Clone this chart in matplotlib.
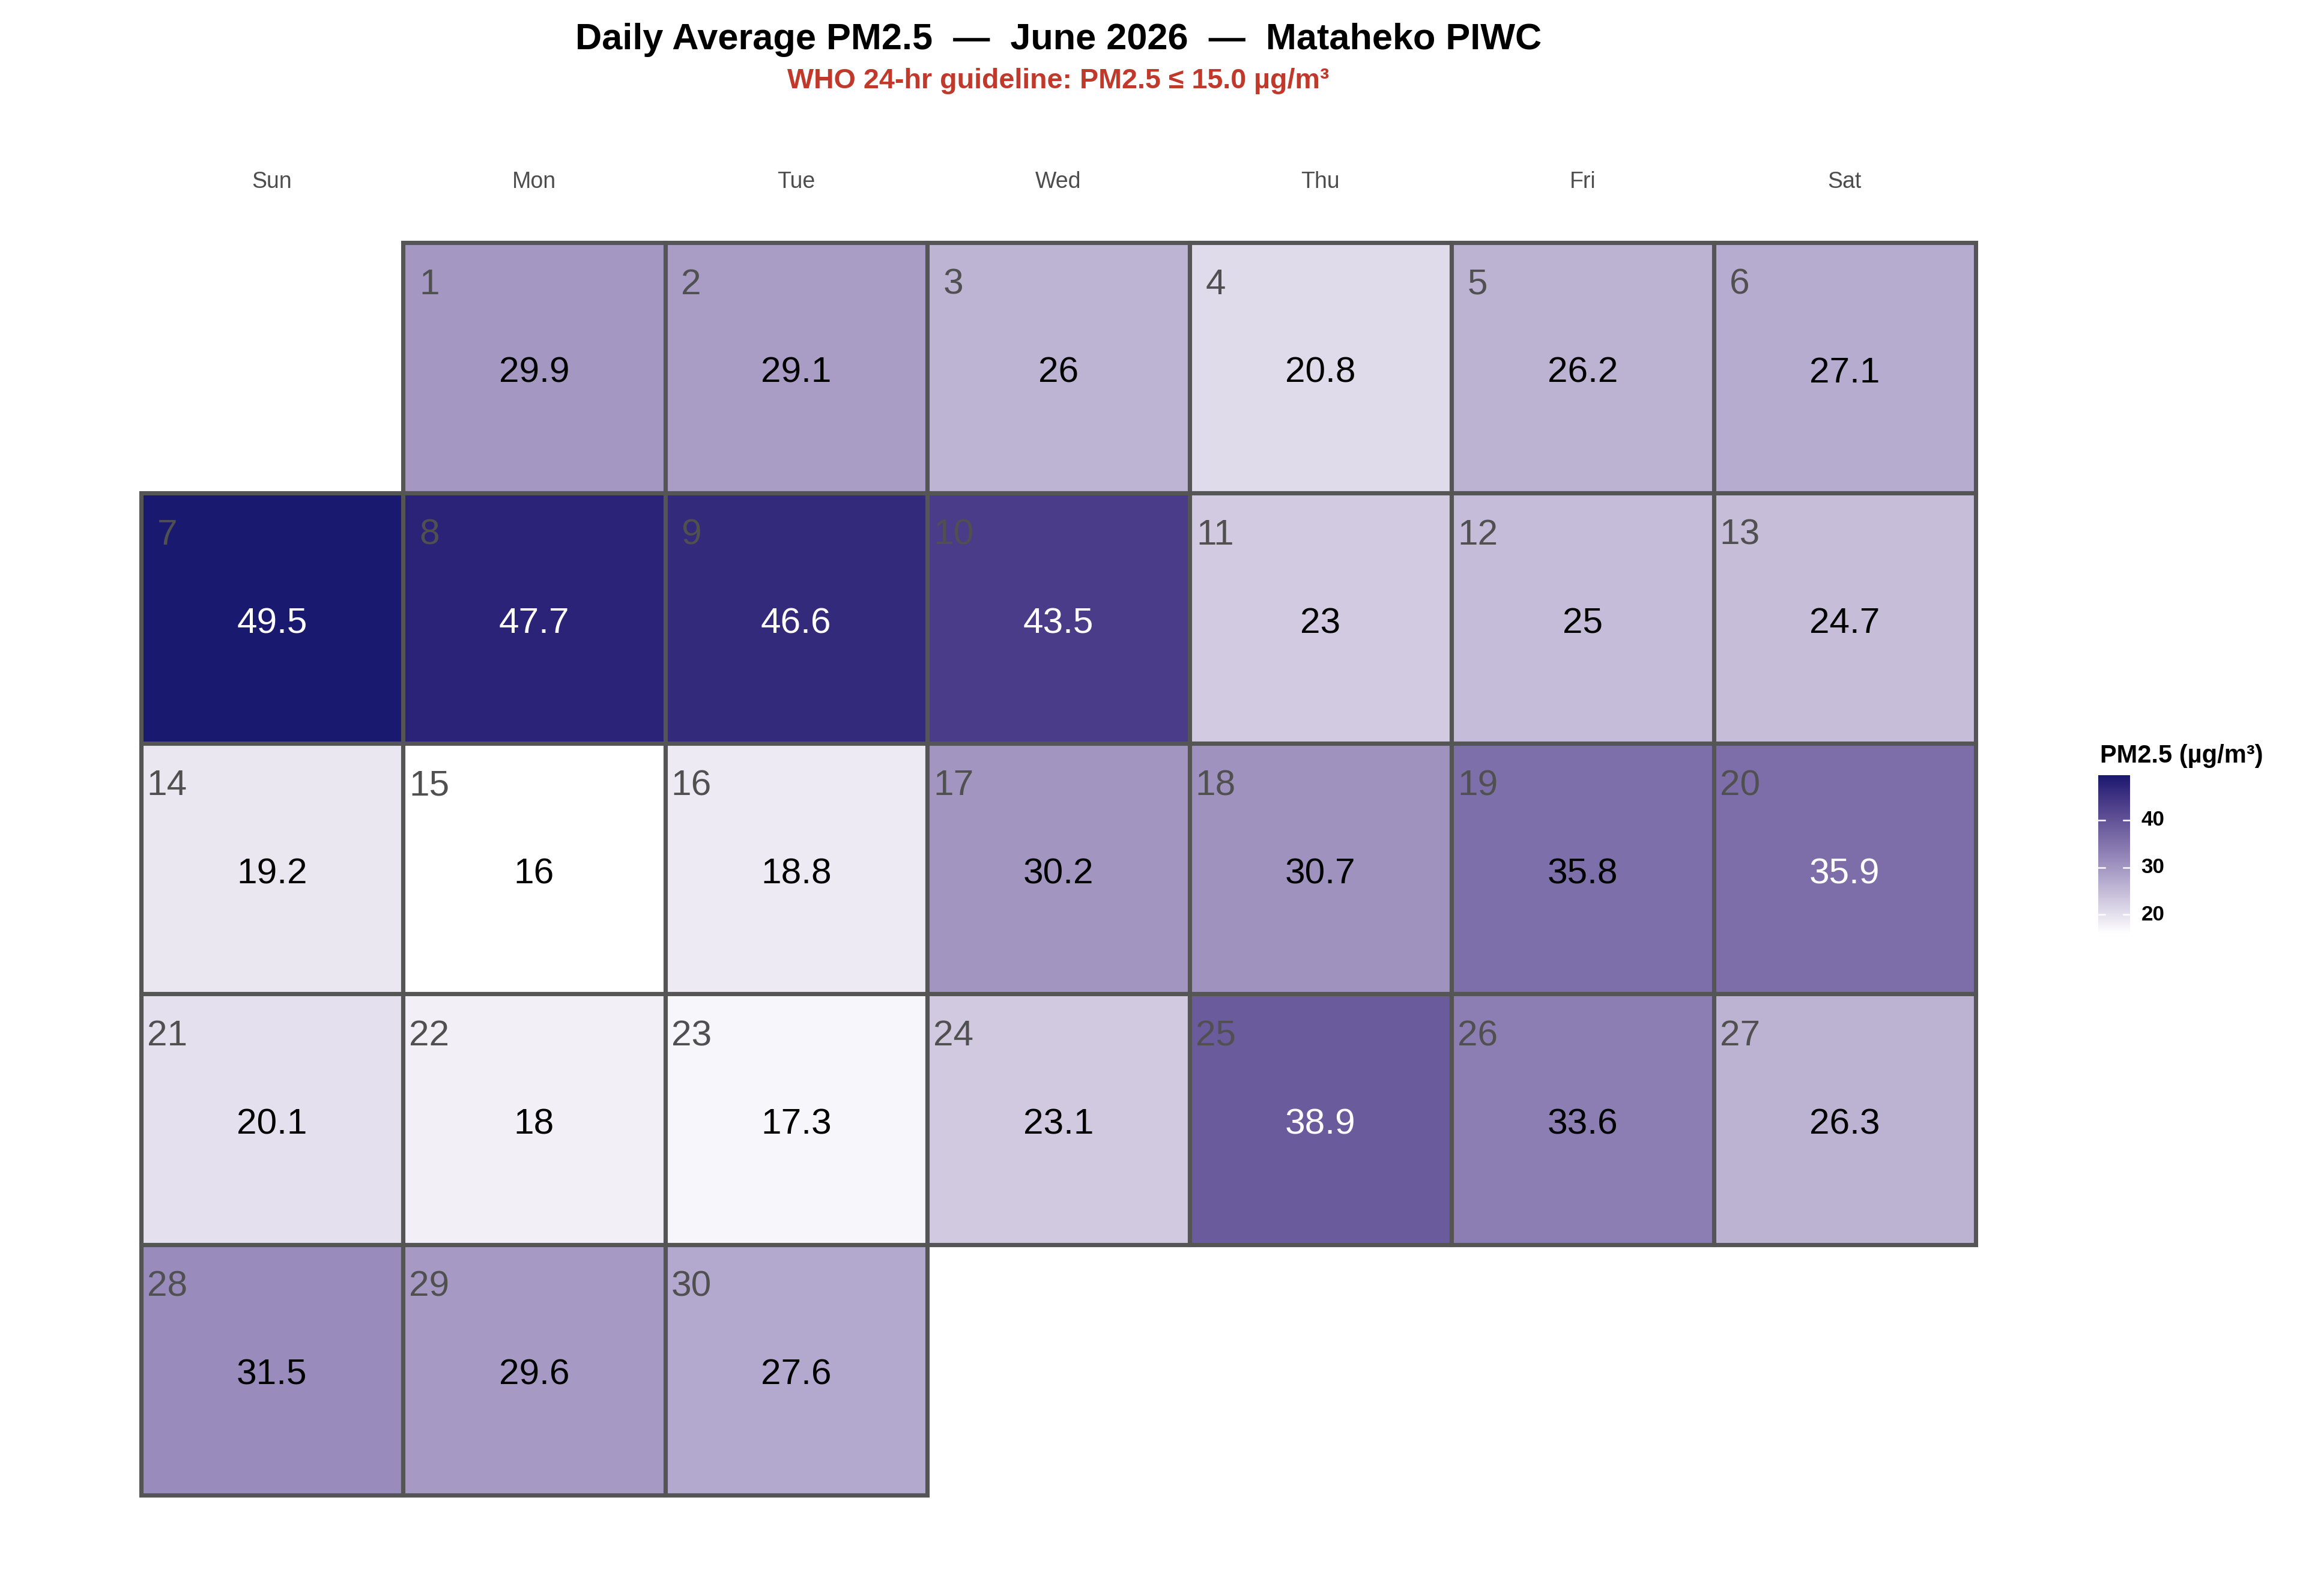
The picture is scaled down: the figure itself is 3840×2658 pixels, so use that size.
"""Calendar heatmap of daily PM2.5 for June 2026 (Mataheko PIWC)."""

import datetime as dt

import matplotlib

matplotlib.use("Agg")

import matplotlib.pyplot as plt  # noqa: E402
import numpy as np  # noqa: E402
from matplotlib.colors import ListedColormap, Normalize, to_rgb  # noqa: E402
from matplotlib.patches import Rectangle  # noqa: E402

plt.rcParams["font.family"] = ["Liberation Sans", "DejaVu Sans"]

YEAR, MONTH = 2026, 6
WEEKDAYS = ["Sun", "Mon", "Tue", "Wed", "Thu", "Fri", "Sat"]
DAYS = list(range(1, 31))
PM25 = [
    29.9, 29.1, 26.0, 20.8, 26.2, 27.1, 49.5, 47.7, 46.6, 43.5,
    23.0, 25.0, 24.7, 19.2, 16.0, 18.8, 30.2, 30.7, 35.8, 35.9,
    20.1, 18.0, 17.3, 23.1, 38.9, 33.6, 26.3, 31.5, 29.6, 27.6,
]
CBAR_TICKS = [20, 30, 40]

_LOW = "#FFFFFF"
_HIGH = "#191970"
_BORDER = "#555555"
_DAYNUM = "#505050"
_RED = "#C0392B"

W, H, DPI = 3840, 2658, 300


# --- Lab gradient (like scales::seq_gradient_pal) ---------------------------
_WP = np.array([0.95047, 1.0, 1.08883])
_M = np.array([[0.4124564, 0.3575761, 0.1804375],
               [0.2126729, 0.7151522, 0.0721750],
               [0.0193339, 0.1191920, 0.9503041]])


def _to_lab(rgb):
    c = np.asarray(rgb, float)
    lin = np.where(c <= 0.04045, c / 12.92, ((c + 0.055) / 1.055) ** 2.4)
    xyz = _M @ lin / _WP
    f = np.where(xyz > 216 / 24389, np.cbrt(xyz), (24389 / 27 * xyz + 16) / 116)
    return np.array([116 * f[1] - 16, 500 * (f[0] - f[1]), 200 * (f[1] - f[2])])


def _from_lab(lab):
    L, a, b = lab
    fy = (L + 16) / 116
    f = np.array([fy + a / 500, fy, fy - b / 200])
    xyz = np.where(f ** 3 > 216 / 24389, f ** 3, (116 * f - 16) / (24389 / 27)) * _WP
    lin = np.clip(np.linalg.solve(_M, xyz), 0, 1)
    c = np.where(lin <= 0.0031308, 12.92 * lin, 1.055 * lin ** (1 / 2.4) - 0.055)
    return np.clip(c, 0, 1)


lab_lo, lab_hi = _to_lab(to_rgb(_LOW)), _to_lab(to_rgb(_HIGH))
cmap = ListedColormap([_from_lab(lab_lo + t * (lab_hi - lab_lo)) for t in np.linspace(0, 1, 256)])
norm = Normalize(vmin=min(PM25), vmax=max(PM25))

# --- grid position of each day --------------------------------------------
first_col = (dt.date(YEAR, MONTH, 1).weekday() + 1) % 7  # Sunday = 0
cols = [(first_col + d - 1) % 7 for d in DAYS]
rows = [(first_col + d - 1) // 7 for d in DAYS]
n_rows = max(rows) + 1

fig = plt.figure(figsize=(W / DPI, H / DPI), dpi=DPI)

gx0, gx1, gy0, gy1 = 234.6, 3290.0, 403.7, 2490.0
ax = fig.add_axes([gx0 / W, 1 - gy1 / H, (gx1 - gx0) / W, (gy1 - gy0) / H])
ax.set_xlim(0, 7)
ax.set_ylim(n_rows, 0)
ax.axis("off")

for d, c, r, v in zip(DAYS, cols, rows, PM25):
    ax.add_patch(Rectangle((c, r), 1, 1, facecolor=cmap(norm(v)), edgecolor=_BORDER,
                           linewidth=1.7, clip_on=False))
    ax.text(c + 0.1, r + 0.206, str(d), ha="center", va="baseline", fontsize=14.5, color=_DAYNUM)
    ax.text(c + 0.5, r + 0.559, f"{v:g}", ha="center", va="baseline", fontsize=14.5,
            color="white" if v > 35.85 else "black")

# weekday header sits above the first row
header_y = -(gy0 - 313) / ((gy1 - gy0) / n_rows)
for i, name in enumerate(WEEKDAYS):
    ax.text(i + 0.5, header_y, name, ha="center", va="baseline",
            fontsize=9, color="#4D4D4D", clip_on=False)

cx = (gx0 + gx1) / 2 / W
fig.text(cx, 1 - 82 / H, "Daily Average PM2.5  \u2014  June 2026  \u2014  Mataheko PIWC",
         ha="center", va="baseline", fontsize=14.7, fontweight="bold")
fig.text(cx, 1 - 147 / H, "WHO 24-hr guideline: PM2.5 \u2264 15.0 \u00b5g/m\u00b3",
         ha="center", va="baseline", fontsize=11.2, fontweight="bold", color=_RED)

# --- colour bar -------------------------------------------------------------
bx0, bx1, by0, by1 = 3494, 3547, 1291, 1555
cax = fig.add_axes([bx0 / W, 1 - by1 / H, (bx1 - bx0) / W, (by1 - by0) / H])
grad = np.linspace(norm.vmin, norm.vmax, 300).reshape(-1, 1)
cax.imshow(grad, cmap=cmap, norm=norm, origin="lower", aspect="auto",
           extent=(0, 1, norm.vmin, norm.vmax))
cax.set_xlim(0, 1)
cax.set_ylim(norm.vmin, norm.vmax)
cax.axis("off")
for t in CBAR_TICKS:
    cax.plot([0, 0.2], [t, t], color="white", lw=0.6)
    cax.plot([0.8, 1], [t, t], color="white", lw=0.6)
    cax.text(1.35, t, str(t), ha="left", va="center", fontsize=8.4, fontweight="bold",
             clip_on=False)
fig.text(3497 / W, 1 - 1270 / H, "PM2.5 (\u00b5g/m\u00b3)", ha="left", va="baseline",
         fontsize=10, fontweight="bold")

fig.savefig("out.png", dpi=DPI, facecolor="white")
plt.close(fig)
